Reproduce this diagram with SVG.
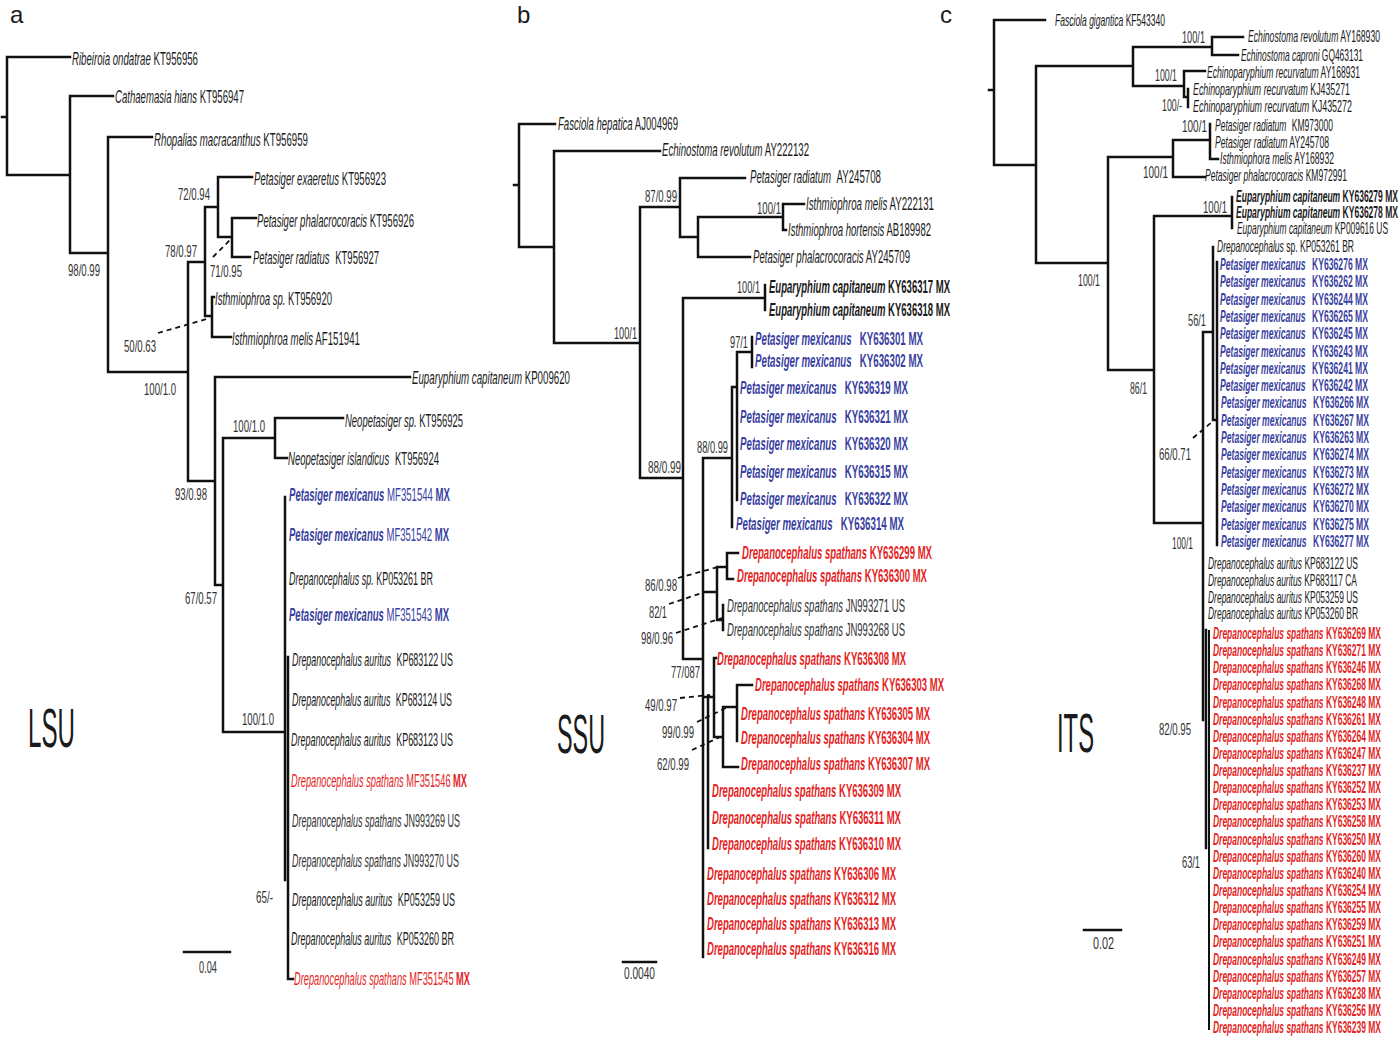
<svg xmlns="http://www.w3.org/2000/svg" width="1400" height="1042" viewBox="0 0 1400 1042">
<style>
text{font-family:"Liberation Sans",Arial,sans-serif;fill:#1a1a1a}
.n{font-size:18px}
.k{font-size:17px}
.s{font-size:17px;fill:#333}
.i{font-style:italic}
.b{font-weight:bold}
.bl{fill:#3a3f9f}
.rd{fill:#e41f26}
.gy{fill:#333}
.big{font-size:56px}
.pl{font-size:24px}
.br{stroke:#111;stroke-width:2.5;fill:none;stroke-linecap:square}
.th{stroke:#111;stroke-width:2;fill:none}
.ds{stroke:#111;stroke-width:1.8;fill:none;stroke-dasharray:5 4}
</style>
<rect width="1400" height="1042" fill="#fff"/>
<g id="panel-labels">
<text class="pl" x="10" y="23">a</text>
<text class="pl" x="517" y="23">b</text>
<text class="pl" x="940" y="23">c</text>
<text class="big" x="28" y="747" textLength="47" lengthAdjust="spacingAndGlyphs">LSU</text>
<text class="big" x="557" y="753" textLength="48" lengthAdjust="spacingAndGlyphs">SSU</text>
<text class="big" x="1057" y="752" textLength="37" lengthAdjust="spacingAndGlyphs">ITS</text>
</g>
<g id="connectors">
<path class="br" d="M2,117H7M7,57V175M7,57H70M7,175H70M70,96V253M70,96H113M70,253H108M108,137V372M108,137H152M108,372H188M188,262V481M188,262H205M205,207V316M205,207H218M218,177V237M218,177H252M218,237H232M232,218V257M232,218H256M232,257H250M205,316H212M212,297V337M212,297H214M212,337H231M188,481H215M215,377V585M215,377H410M215,585H223M223,438V732M223,438H275M275,418V458M275,418H343M275,458H287M223,732H285M285,497V880M288,657V979M288,979H293"/>
<path class="ds" d="M213,257L232,238M158,333L210,318"/>
<path class="br" d="M514,185H519M519,124V247M519,124H555M519,247H554M554,151V343M554,151H660M554,343H640M640,207V478M640,207H680M680,178V237M680,178H745M680,237H698M698,217V257M698,217H783M783,204V230M783,204H804M783,230H786M698,257H750M640,478H683M683,298V659M683,298H765M765,285V310M683,659H703M703,458V957M703,458H732M732,387V527M732,387H737M737,352V500M737,352H752M752,337V367M703,592H717M717,567V620M717,567H727M727,553V579M727,553H738M727,579H733M717,620H723M723,605V630M703,697H714M708,697V848M714,658V737M714,658H716M714,737H723M723,707V767M723,707H737M737,685V741M737,685H752M723,767H738"/>
<path class="ds" d="M678,578L718,567M669,604L705,592M676,633L722,618M680,698L710,695M697,722L728,707M692,750L720,737"/>
<path class="br" d="M989,90H994M994,20V165M994,20H1045M994,165H1036M1036,66V263M1036,66H1133M1133,47V86M1133,47H1212M1212,37V55M1212,37H1243M1212,55H1238M1133,86H1184M1184,71V97M1184,71H1205M1184,97H1188M1188,89V107M1036,263H1108M1108,157V370M1108,157H1173M1173,140V177M1173,140H1210M1210,124V159M1210,159H1218M1173,177H1205M1108,370H1154M1154,216V523M1154,216H1232M1232,197V228M1154,523H1203M1203,332V720M1203,332H1213M1213,247V420M1213,420H1217M1217,262V545M1206,630V848"/>
<path class="th" d="M1209,630V1030"/>
<path class="ds" d="M1193,438L1212,422"/>
<path class="br" d="M184,952H230M623,962H656M1084,930H1121"/>
</g>
<g id="scales">
<text class="s" x="199" y="973" textLength="18" lengthAdjust="spacingAndGlyphs">0.04</text>
<text class="s" x="624" y="979" textLength="31" lengthAdjust="spacingAndGlyphs">0.0040</text>
<text class="s" x="1093" y="949" textLength="21" lengthAdjust="spacingAndGlyphs">0.02</text>
</g>
<g id="support-a">
<text class="s" x="178" y="200" textLength="32" lengthAdjust="spacingAndGlyphs">72/0.94</text>
<text class="s" x="165" y="257" textLength="32" lengthAdjust="spacingAndGlyphs">78/0.97</text>
<text class="s" x="210" y="277" textLength="32" lengthAdjust="spacingAndGlyphs">71/0.95</text>
<text class="s" x="68" y="276" textLength="32" lengthAdjust="spacingAndGlyphs">98/0.99</text>
<text class="s" x="124" y="352" textLength="32" lengthAdjust="spacingAndGlyphs">50/0.63</text>
<text class="s" x="144" y="395" textLength="32" lengthAdjust="spacingAndGlyphs">100/1.0</text>
<text class="s" x="175" y="500" textLength="32" lengthAdjust="spacingAndGlyphs">93/0.98</text>
<text class="s" x="233" y="432" textLength="32" lengthAdjust="spacingAndGlyphs">100/1.0</text>
<text class="s" x="185" y="604" textLength="32" lengthAdjust="spacingAndGlyphs">67/0.57</text>
<text class="s" x="242" y="725" textLength="32" lengthAdjust="spacingAndGlyphs">100/1.0</text>
<text class="s" x="256" y="903" textLength="17" lengthAdjust="spacingAndGlyphs">65/-</text>
</g>
<g id="lsu-leaves">
<g id="a1"><text class="n" x="72" y="64.5" textLength="126" lengthAdjust="spacingAndGlyphs"><tspan class="i">Ribeiroia ondatrae</tspan> KT956956</text></g>
<g id="a2"><text class="n" x="115" y="102.5" textLength="129" lengthAdjust="spacingAndGlyphs"><tspan class="i">Cathaemasia hians</tspan> KT956947</text></g>
<g id="a3"><text class="n" x="154" y="145.5" textLength="154" lengthAdjust="spacingAndGlyphs"><tspan class="i">Rhopalias macracanthus</tspan> KT956959</text></g>
<g id="a4"><text class="n" x="254" y="184.5" textLength="132" lengthAdjust="spacingAndGlyphs"><tspan class="i">Petasiger exaeretus</tspan> KT956923</text></g>
<g id="a5"><text class="n" x="257" y="226.5" textLength="157" lengthAdjust="spacingAndGlyphs"><tspan class="i">Petasiger phalacrocoracis</tspan> KT956926</text></g>
<g id="a6"><text class="n" x="253" y="263.5" textLength="126" lengthAdjust="spacingAndGlyphs"><tspan class="i">Petasiger radiatus</tspan> <tspan dx="6">KT956927</tspan></text></g>
<g id="a7"><text class="n" x="215" y="304.5" textLength="117" lengthAdjust="spacingAndGlyphs"><tspan class="i">Isthmiophroa sp.</tspan> KT956920</text></g>
<g id="a8"><text class="n" x="232" y="344.5" textLength="128" lengthAdjust="spacingAndGlyphs"><tspan class="i">Isthmiophroa melis</tspan> AF151941</text></g>
<g id="a9"><text class="n" x="412" y="383.5" textLength="158" lengthAdjust="spacingAndGlyphs"><tspan class="i">Euparyphium capitaneum</tspan> KP009620</text></g>
<g id="a10"><text class="n" x="345" y="426.5" textLength="118" lengthAdjust="spacingAndGlyphs"><tspan class="i">Neopetasiger sp.</tspan> KT956925</text></g>
<g id="a11"><text class="n" x="288" y="464.5" textLength="151" lengthAdjust="spacingAndGlyphs"><tspan class="i">Neopetasiger islandicus</tspan> <tspan dx="6">KT956924</tspan></text></g>
<g id="a12"><text class="n bl" x="289" y="500.5" textLength="161" lengthAdjust="spacingAndGlyphs"><tspan class="i b">Petasiger mexicanus</tspan> MF351544 <tspan class="b">MX</tspan></text></g>
<g id="a13"><text class="n bl" x="289" y="540.5" textLength="160" lengthAdjust="spacingAndGlyphs"><tspan class="i b">Petasiger mexicanus</tspan> MF351542 <tspan class="b">MX</tspan></text></g>
<g id="a14"><text class="n" x="289" y="584.5" textLength="144" lengthAdjust="spacingAndGlyphs"><tspan class="i">Drepanocephalus sp.</tspan> KP053261 BR</text></g>
<g id="a15"><text class="n bl" x="289" y="620.5" textLength="160" lengthAdjust="spacingAndGlyphs"><tspan class="i b">Petasiger mexicanus</tspan> MF351543 <tspan class="b">MX</tspan></text></g>
<g id="a16"><text class="n" x="292" y="665.5" textLength="161" lengthAdjust="spacingAndGlyphs"><tspan class="i">Drepanocephalus auritus</tspan> <tspan dx="6">KP683122 US</tspan></text></g>
<g id="a17"><text class="n" x="292" y="705.5" textLength="160" lengthAdjust="spacingAndGlyphs"><tspan class="i">Drepanocephalus auritus</tspan> <tspan dx="6">KP683124 US</tspan></text></g>
<g id="a18"><text class="n" x="291" y="745.5" textLength="162" lengthAdjust="spacingAndGlyphs"><tspan class="i">Drepanocephalus auritus</tspan> <tspan dx="6">KP683123 US</tspan></text></g>
<g id="a19"><text class="n rd" x="291" y="786.5" textLength="176" lengthAdjust="spacingAndGlyphs"><tspan class="i">Drepanocephalus spathans</tspan> MF351546 <tspan class="b">MX</tspan></text></g>
<g id="a20"><text class="n gy" x="292" y="826.5" textLength="168" lengthAdjust="spacingAndGlyphs"><tspan class="i">Drepanocephalus spathans</tspan> JN993269 US</text></g>
<g id="a21"><text class="n gy" x="292" y="866.5" textLength="167" lengthAdjust="spacingAndGlyphs"><tspan class="i">Drepanocephalus spathans</tspan> JN993270 US</text></g>
<g id="a22"><text class="n" x="292" y="905.5" textLength="163" lengthAdjust="spacingAndGlyphs"><tspan class="i">Drepanocephalus auritus</tspan> <tspan dx="6">KP053259 US</tspan></text></g>
<g id="a23"><text class="n" x="291" y="944.5" textLength="163" lengthAdjust="spacingAndGlyphs"><tspan class="i">Drepanocephalus auritus</tspan> <tspan dx="6">KP053260 BR</tspan></text></g>
<g id="a24"><text class="n rd" x="294" y="984.5" textLength="176" lengthAdjust="spacingAndGlyphs"><tspan class="i">Drepanocephalus spathans</tspan> MF351545 <tspan class="b">MX</tspan></text></g>
</g>
<g id="support-b">
<text class="s" x="614" y="339" textLength="23" lengthAdjust="spacingAndGlyphs">100/1</text>
<text class="s" x="645" y="202" textLength="32" lengthAdjust="spacingAndGlyphs">87/0.99</text>
<text class="s" x="757" y="214" textLength="24" lengthAdjust="spacingAndGlyphs">100/1</text>
<text class="s" x="648" y="473" textLength="33" lengthAdjust="spacingAndGlyphs">88/0.99</text>
<text class="s" x="737" y="293" textLength="23" lengthAdjust="spacingAndGlyphs">100/1</text>
<text class="s" x="730" y="348" textLength="18" lengthAdjust="spacingAndGlyphs">97/1</text>
<text class="s" x="697" y="453" textLength="31" lengthAdjust="spacingAndGlyphs">88/0.99</text>
<text class="s" x="645" y="591" textLength="32" lengthAdjust="spacingAndGlyphs">86/0.98</text>
<text class="s" x="649" y="618" textLength="18" lengthAdjust="spacingAndGlyphs">82/1</text>
<text class="s" x="641" y="644" textLength="32" lengthAdjust="spacingAndGlyphs">98/0.96</text>
<text class="s" x="671" y="678" textLength="29" lengthAdjust="spacingAndGlyphs">77/087</text>
<text class="s" x="645" y="711" textLength="32" lengthAdjust="spacingAndGlyphs">49/0.97</text>
<text class="s" x="662" y="738" textLength="32" lengthAdjust="spacingAndGlyphs">99/0.99</text>
<text class="s" x="657" y="770" textLength="32" lengthAdjust="spacingAndGlyphs">62/0.99</text>
</g>
<g id="ssu-leaves">
<g id="b1"><text class="n" x="558" y="129.5" textLength="120" lengthAdjust="spacingAndGlyphs"><tspan class="i">Fasciola hepatica</tspan> AJ004969</text></g>
<g id="b2"><text class="n" x="662" y="155.5" textLength="147" lengthAdjust="spacingAndGlyphs"><tspan class="i">Echinostoma revolutum</tspan> AY222132</text></g>
<g id="b3"><text class="n" x="750" y="182.5" textLength="131" lengthAdjust="spacingAndGlyphs"><tspan class="i">Petasiger radiatum</tspan> <tspan dx="6">AY245708</tspan></text></g>
<g id="b4"><text class="n" x="806" y="209.5" textLength="128" lengthAdjust="spacingAndGlyphs"><tspan class="i">Isthmiophroa melis</tspan> AY222131</text></g>
<g id="b5"><text class="n" x="788" y="235.5" textLength="143" lengthAdjust="spacingAndGlyphs"><tspan class="i">Isthmiophroa hortensis</tspan> AB189982</text></g>
<g id="b6"><text class="n" x="753" y="262.5" textLength="157" lengthAdjust="spacingAndGlyphs"><tspan class="i">Petasiger phalacrocoracis</tspan> AY245709</text></g>
<g id="b7"><text class="n b" x="769" y="292.5" textLength="181" lengthAdjust="spacingAndGlyphs"><tspan class="i">Euparyphium capitaneum</tspan> KY636317 MX</text></g>
<g id="b8"><text class="n b" x="769" y="315.5" textLength="181" lengthAdjust="spacingAndGlyphs"><tspan class="i">Euparyphium capitaneum</tspan> KY636318 MX</text></g>
<g id="b9"><text class="n b bl" x="755" y="344.5" textLength="168" lengthAdjust="spacingAndGlyphs"><tspan class="i">Petasiger mexicanus</tspan> <tspan dx="10">KY636301 MX</tspan></text></g>
<g id="b10"><text class="n b bl" x="755" y="366.5" textLength="168" lengthAdjust="spacingAndGlyphs"><tspan class="i">Petasiger mexicanus</tspan> <tspan dx="10">KY636302 MX</tspan></text></g>
<g id="b11"><text class="n b bl" x="740" y="393.5" textLength="168" lengthAdjust="spacingAndGlyphs"><tspan class="i">Petasiger mexicanus</tspan> <tspan dx="10">KY636319 MX</tspan></text></g>
<g id="b12"><text class="n b bl" x="740" y="422.5" textLength="168" lengthAdjust="spacingAndGlyphs"><tspan class="i">Petasiger mexicanus</tspan> <tspan dx="10">KY636321 MX</tspan></text></g>
<g id="b13"><text class="n b bl" x="740" y="449.5" textLength="168" lengthAdjust="spacingAndGlyphs"><tspan class="i">Petasiger mexicanus</tspan> <tspan dx="10">KY636320 MX</tspan></text></g>
<g id="b14"><text class="n b bl" x="740" y="477.5" textLength="168" lengthAdjust="spacingAndGlyphs"><tspan class="i">Petasiger mexicanus</tspan> <tspan dx="10">KY636315 MX</tspan></text></g>
<g id="b15"><text class="n b bl" x="740" y="504.5" textLength="168" lengthAdjust="spacingAndGlyphs"><tspan class="i">Petasiger mexicanus</tspan> <tspan dx="10">KY636322 MX</tspan></text></g>
<g id="b16"><text class="n b bl" x="736" y="529.5" textLength="168" lengthAdjust="spacingAndGlyphs"><tspan class="i">Petasiger mexicanus</tspan> <tspan dx="10">KY636314 MX</tspan></text></g>
<g id="b17"><text class="n b rd" x="742" y="558.5" textLength="190" lengthAdjust="spacingAndGlyphs"><tspan class="i">Drepanocephalus spathans</tspan> KY636299 MX</text></g>
<g id="b18"><text class="n b rd" x="737" y="581.5" textLength="190" lengthAdjust="spacingAndGlyphs"><tspan class="i">Drepanocephalus spathans</tspan> KY636300 MX</text></g>
<g id="b19"><text class="n gy" x="727" y="611.5" textLength="178" lengthAdjust="spacingAndGlyphs"><tspan class="i">Drepanocephalus spathans</tspan> JN993271 US</text></g>
<g id="b20"><text class="n gy" x="727" y="635.5" textLength="178" lengthAdjust="spacingAndGlyphs"><tspan class="i">Drepanocephalus spathans</tspan> JN993268 US</text></g>
<g id="b21"><text class="n b rd" x="717" y="664.5" textLength="189" lengthAdjust="spacingAndGlyphs"><tspan class="i">Drepanocephalus spathans</tspan> KY636308 MX</text></g>
<g id="b22"><text class="n b rd" x="755" y="690.5" textLength="189" lengthAdjust="spacingAndGlyphs"><tspan class="i">Drepanocephalus spathans</tspan> KY636303 MX</text></g>
<g id="b23"><text class="n b rd" x="741" y="719.5" textLength="189" lengthAdjust="spacingAndGlyphs"><tspan class="i">Drepanocephalus spathans</tspan> KY636305 MX</text></g>
<g id="b24"><text class="n b rd" x="741" y="743.5" textLength="189" lengthAdjust="spacingAndGlyphs"><tspan class="i">Drepanocephalus spathans</tspan> KY636304 MX</text></g>
<g id="b25"><text class="n b rd" x="741" y="769.5" textLength="189" lengthAdjust="spacingAndGlyphs"><tspan class="i">Drepanocephalus spathans</tspan> KY636307 MX</text></g>
<g id="b26"><text class="n b rd" x="712" y="796.5" textLength="189" lengthAdjust="spacingAndGlyphs"><tspan class="i">Drepanocephalus spathans</tspan> KY636309 MX</text></g>
<g id="b27"><text class="n b rd" x="712" y="823.5" textLength="189" lengthAdjust="spacingAndGlyphs"><tspan class="i">Drepanocephalus spathans</tspan> KY636311 MX</text></g>
<g id="b28"><text class="n b rd" x="712" y="849.5" textLength="189" lengthAdjust="spacingAndGlyphs"><tspan class="i">Drepanocephalus spathans</tspan> KY636310 MX</text></g>
<g id="b29"><text class="n b rd" x="707" y="879.5" textLength="189" lengthAdjust="spacingAndGlyphs"><tspan class="i">Drepanocephalus spathans</tspan> KY636306 MX</text></g>
<g id="b30"><text class="n b rd" x="707" y="904.5" textLength="189" lengthAdjust="spacingAndGlyphs"><tspan class="i">Drepanocephalus spathans</tspan> KY636312 MX</text></g>
<g id="b31"><text class="n b rd" x="707" y="929.5" textLength="189" lengthAdjust="spacingAndGlyphs"><tspan class="i">Drepanocephalus spathans</tspan> KY636313 MX</text></g>
<g id="b32"><text class="n b rd" x="707" y="954.5" textLength="189" lengthAdjust="spacingAndGlyphs"><tspan class="i">Drepanocephalus spathans</tspan> KY636316 MX</text></g>
</g>
<g id="support-c">
<text class="s" x="1182" y="43" textLength="23" lengthAdjust="spacingAndGlyphs">100/1</text>
<text class="s" x="1155" y="81" textLength="22" lengthAdjust="spacingAndGlyphs">100/1</text>
<text class="s" x="1162" y="111" textLength="20" lengthAdjust="spacingAndGlyphs">100/-</text>
<text class="s" x="1182" y="132" textLength="25" lengthAdjust="spacingAndGlyphs">100/1</text>
<text class="s" x="1143" y="178" textLength="25" lengthAdjust="spacingAndGlyphs">100/1</text>
<text class="s" x="1203" y="213" textLength="24" lengthAdjust="spacingAndGlyphs">100/1</text>
<text class="s" x="1078" y="286" textLength="22" lengthAdjust="spacingAndGlyphs">100/1</text>
<text class="s" x="1188" y="326" textLength="18" lengthAdjust="spacingAndGlyphs">56/1</text>
<text class="s" x="1130" y="394" textLength="17" lengthAdjust="spacingAndGlyphs">86/1</text>
<text class="s" x="1159" y="460" textLength="32" lengthAdjust="spacingAndGlyphs">66/0.71</text>
<text class="s" x="1172" y="549" textLength="21" lengthAdjust="spacingAndGlyphs">100/1</text>
<text class="s" x="1159" y="735" textLength="32" lengthAdjust="spacingAndGlyphs">82/0.95</text>
<text class="s" x="1182" y="868" textLength="18" lengthAdjust="spacingAndGlyphs">63/1</text>
</g>
<g id="its-leaves">
<g id="c1"><text class="k" x="1055" y="26" textLength="110" lengthAdjust="spacingAndGlyphs"><tspan class="i">Fasciola gigantica</tspan> KF543340</text></g>
<g id="c2"><text class="k" x="1248" y="42" textLength="132" lengthAdjust="spacingAndGlyphs"><tspan class="i">Echinostoma revolutum</tspan> AY168930</text></g>
<g id="c3"><text class="k" x="1241" y="61" textLength="122" lengthAdjust="spacingAndGlyphs"><tspan class="i">Echinostoma caproni</tspan> GQ463131</text></g>
<g id="c4"><text class="k" x="1207" y="78" textLength="153" lengthAdjust="spacingAndGlyphs"><tspan class="i">Echinoparyphium recurvatum</tspan> AY168931</text></g>
<g id="c5"><text class="k" x="1193" y="95" textLength="157" lengthAdjust="spacingAndGlyphs"><tspan class="i">Echinoparyphium recurvatum</tspan> KJ435271</text></g>
<g id="c6"><text class="k" x="1193" y="112" textLength="159" lengthAdjust="spacingAndGlyphs"><tspan class="i">Echinoparyphium recurvatum</tspan> KJ435272</text></g>
<g id="c7"><text class="k" x="1215" y="131" textLength="118" lengthAdjust="spacingAndGlyphs"><tspan class="i">Petasiger radiatum</tspan> <tspan dx="6">KM973000</tspan></text></g>
<g id="c8"><text class="k" x="1215" y="148" textLength="114" lengthAdjust="spacingAndGlyphs"><tspan class="i">Petasiger radiatum</tspan> AY245708</text></g>
<g id="c9"><text class="k" x="1220" y="164" textLength="114" lengthAdjust="spacingAndGlyphs"><tspan class="i">Isthmiophora melis</tspan> AY168932</text></g>
<g id="c10"><text class="k" x="1205" y="181" textLength="142" lengthAdjust="spacingAndGlyphs"><tspan class="i">Petasiger phalacrocoracis</tspan> KM972991</text></g>
<g id="c11"><text class="k b" x="1236" y="202" textLength="162" lengthAdjust="spacingAndGlyphs"><tspan class="i">Euparyphium capitaneum</tspan> KY636279 MX</text></g>
<g id="c12"><text class="k b" x="1236" y="218" textLength="162" lengthAdjust="spacingAndGlyphs"><tspan class="i">Euparyphium capitaneum</tspan> KY636278 MX</text></g>
<g id="c13"><text class="k" x="1237" y="234" textLength="151" lengthAdjust="spacingAndGlyphs"><tspan class="i">Euparyphium capitaneum</tspan> KP009616 US</text></g>
<g id="c14"><text class="k" x="1217" y="252" textLength="137" lengthAdjust="spacingAndGlyphs"><tspan class="i">Drepanocephalus</tspan> sp. KP053261 BR</text></g>
<g id="c15"><text class="k b bl" x="1220" y="270" textLength="148" lengthAdjust="spacingAndGlyphs"><tspan class="i">Petasiger mexicanus</tspan> <tspan dx="8">KY636276 MX</tspan></text></g>
<g id="c16"><text class="k b bl" x="1220" y="287.3" textLength="148" lengthAdjust="spacingAndGlyphs"><tspan class="i">Petasiger mexicanus</tspan> <tspan dx="8">KY636262 MX</tspan></text></g>
<g id="c17"><text class="k b bl" x="1220" y="304.6" textLength="148" lengthAdjust="spacingAndGlyphs"><tspan class="i">Petasiger mexicanus</tspan> <tspan dx="8">KY636244 MX</tspan></text></g>
<g id="c18"><text class="k b bl" x="1220" y="321.9" textLength="148" lengthAdjust="spacingAndGlyphs"><tspan class="i">Petasiger mexicanus</tspan> <tspan dx="8">KY636265 MX</tspan></text></g>
<g id="c19"><text class="k b bl" x="1220" y="339.2" textLength="148" lengthAdjust="spacingAndGlyphs"><tspan class="i">Petasiger mexicanus</tspan> <tspan dx="8">KY636245 MX</tspan></text></g>
<g id="c20"><text class="k b bl" x="1220" y="356.5" textLength="148" lengthAdjust="spacingAndGlyphs"><tspan class="i">Petasiger mexicanus</tspan> <tspan dx="8">KY636243 MX</tspan></text></g>
<g id="c21"><text class="k b bl" x="1220" y="373.8" textLength="148" lengthAdjust="spacingAndGlyphs"><tspan class="i">Petasiger mexicanus</tspan> <tspan dx="8">KY636241 MX</tspan></text></g>
<g id="c22"><text class="k b bl" x="1220" y="391.1" textLength="148" lengthAdjust="spacingAndGlyphs"><tspan class="i">Petasiger mexicanus</tspan> <tspan dx="8">KY636242 MX</tspan></text></g>
<g id="c23"><text class="k b bl" x="1221" y="408.4" textLength="148" lengthAdjust="spacingAndGlyphs"><tspan class="i">Petasiger mexicanus</tspan> <tspan dx="8">KY636266 MX</tspan></text></g>
<g id="c24"><text class="k b bl" x="1221" y="425.7" textLength="148" lengthAdjust="spacingAndGlyphs"><tspan class="i">Petasiger mexicanus</tspan> <tspan dx="8">KY636267 MX</tspan></text></g>
<g id="c25"><text class="k b bl" x="1221" y="443" textLength="148" lengthAdjust="spacingAndGlyphs"><tspan class="i">Petasiger mexicanus</tspan> <tspan dx="8">KY636263 MX</tspan></text></g>
<g id="c26"><text class="k b bl" x="1221" y="460.3" textLength="148" lengthAdjust="spacingAndGlyphs"><tspan class="i">Petasiger mexicanus</tspan> <tspan dx="8">KY636274 MX</tspan></text></g>
<g id="c27"><text class="k b bl" x="1221" y="477.6" textLength="148" lengthAdjust="spacingAndGlyphs"><tspan class="i">Petasiger mexicanus</tspan> <tspan dx="8">KY636273 MX</tspan></text></g>
<g id="c28"><text class="k b bl" x="1221" y="494.9" textLength="148" lengthAdjust="spacingAndGlyphs"><tspan class="i">Petasiger mexicanus</tspan> <tspan dx="8">KY636272 MX</tspan></text></g>
<g id="c29"><text class="k b bl" x="1221" y="512.2" textLength="148" lengthAdjust="spacingAndGlyphs"><tspan class="i">Petasiger mexicanus</tspan> <tspan dx="8">KY636270 MX</tspan></text></g>
<g id="c30"><text class="k b bl" x="1221" y="529.5" textLength="148" lengthAdjust="spacingAndGlyphs"><tspan class="i">Petasiger mexicanus</tspan> <tspan dx="8">KY636275 MX</tspan></text></g>
<g id="c31"><text class="k b bl" x="1221" y="546.8" textLength="148" lengthAdjust="spacingAndGlyphs"><tspan class="i">Petasiger mexicanus</tspan> <tspan dx="8">KY636277 MX</tspan></text></g>
<g id="c32"><text class="k" x="1208" y="569" textLength="150" lengthAdjust="spacingAndGlyphs"><tspan class="i">Drepanocephalus auritus</tspan> KP683122 US</text></g>
<g id="c33"><text class="k" x="1208" y="586" textLength="149" lengthAdjust="spacingAndGlyphs"><tspan class="i">Drepanocephalus auritus</tspan> KP683117 CA</text></g>
<g id="c34"><text class="k" x="1208" y="603" textLength="150" lengthAdjust="spacingAndGlyphs"><tspan class="i">Drepanocephalus auritus</tspan> KP053259 US</text></g>
<g id="c35"><text class="k" x="1208" y="619" textLength="150" lengthAdjust="spacingAndGlyphs"><tspan class="i">Drepanocephalus auritus</tspan> KP053260 BR</text></g>
<g id="c36"><text class="k b rd" x="1213" y="639" textLength="168" lengthAdjust="spacingAndGlyphs"><tspan class="i">Drepanocephalus spathans</tspan> KY636269 MX</text></g>
<g id="c37"><text class="k b rd" x="1213" y="656.1" textLength="168" lengthAdjust="spacingAndGlyphs"><tspan class="i">Drepanocephalus spathans</tspan> KY636271 MX</text></g>
<g id="c38"><text class="k b rd" x="1213" y="673.3" textLength="168" lengthAdjust="spacingAndGlyphs"><tspan class="i">Drepanocephalus spathans</tspan> KY636246 MX</text></g>
<g id="c39"><text class="k b rd" x="1213" y="690.4" textLength="168" lengthAdjust="spacingAndGlyphs"><tspan class="i">Drepanocephalus spathans</tspan> KY636268 MX</text></g>
<g id="c40"><text class="k b rd" x="1213" y="707.5" textLength="168" lengthAdjust="spacingAndGlyphs"><tspan class="i">Drepanocephalus spathans</tspan> KY636248 MX</text></g>
<g id="c41"><text class="k b rd" x="1213" y="724.7" textLength="168" lengthAdjust="spacingAndGlyphs"><tspan class="i">Drepanocephalus spathans</tspan> KY636261 MX</text></g>
<g id="c42"><text class="k b rd" x="1213" y="741.8" textLength="168" lengthAdjust="spacingAndGlyphs"><tspan class="i">Drepanocephalus spathans</tspan> KY636264 MX</text></g>
<g id="c43"><text class="k b rd" x="1213" y="758.9" textLength="168" lengthAdjust="spacingAndGlyphs"><tspan class="i">Drepanocephalus spathans</tspan> KY636247 MX</text></g>
<g id="c44"><text class="k b rd" x="1213" y="776" textLength="168" lengthAdjust="spacingAndGlyphs"><tspan class="i">Drepanocephalus spathans</tspan> KY636237 MX</text></g>
<g id="c45"><text class="k b rd" x="1213" y="793.2" textLength="168" lengthAdjust="spacingAndGlyphs"><tspan class="i">Drepanocephalus spathans</tspan> KY636252 MX</text></g>
<g id="c46"><text class="k b rd" x="1213" y="810.3" textLength="168" lengthAdjust="spacingAndGlyphs"><tspan class="i">Drepanocephalus spathans</tspan> KY636253 MX</text></g>
<g id="c47"><text class="k b rd" x="1213" y="827.4" textLength="168" lengthAdjust="spacingAndGlyphs"><tspan class="i">Drepanocephalus spathans</tspan> KY636258 MX</text></g>
<g id="c48"><text class="k b rd" x="1213" y="844.6" textLength="168" lengthAdjust="spacingAndGlyphs"><tspan class="i">Drepanocephalus spathans</tspan> KY636250 MX</text></g>
<g id="c49"><text class="k b rd" x="1213" y="861.7" textLength="168" lengthAdjust="spacingAndGlyphs"><tspan class="i">Drepanocephalus spathans</tspan> KY636260 MX</text></g>
<g id="c50"><text class="k b rd" x="1213" y="878.8" textLength="168" lengthAdjust="spacingAndGlyphs"><tspan class="i">Drepanocephalus spathans</tspan> KY636240 MX</text></g>
<g id="c51"><text class="k b rd" x="1213" y="896" textLength="168" lengthAdjust="spacingAndGlyphs"><tspan class="i">Drepanocephalus spathans</tspan> KY636254 MX</text></g>
<g id="c52"><text class="k b rd" x="1213" y="913.1" textLength="168" lengthAdjust="spacingAndGlyphs"><tspan class="i">Drepanocephalus spathans</tspan> KY636255 MX</text></g>
<g id="c53"><text class="k b rd" x="1213" y="930.2" textLength="168" lengthAdjust="spacingAndGlyphs"><tspan class="i">Drepanocephalus spathans</tspan> KY636259 MX</text></g>
<g id="c54"><text class="k b rd" x="1213" y="947.3" textLength="168" lengthAdjust="spacingAndGlyphs"><tspan class="i">Drepanocephalus spathans</tspan> KY636251 MX</text></g>
<g id="c55"><text class="k b rd" x="1213" y="964.5" textLength="168" lengthAdjust="spacingAndGlyphs"><tspan class="i">Drepanocephalus spathans</tspan> KY636249 MX</text></g>
<g id="c56"><text class="k b rd" x="1213" y="981.6" textLength="168" lengthAdjust="spacingAndGlyphs"><tspan class="i">Drepanocephalus spathans</tspan> KY636257 MX</text></g>
<g id="c57"><text class="k b rd" x="1213" y="998.7" textLength="168" lengthAdjust="spacingAndGlyphs"><tspan class="i">Drepanocephalus spathans</tspan> KY636238 MX</text></g>
<g id="c58"><text class="k b rd" x="1213" y="1015.9" textLength="168" lengthAdjust="spacingAndGlyphs"><tspan class="i">Drepanocephalus spathans</tspan> KY636256 MX</text></g>
<g id="c59"><text class="k b rd" x="1213" y="1033" textLength="168" lengthAdjust="spacingAndGlyphs"><tspan class="i">Drepanocephalus spathans</tspan> KY636239 MX</text></g>
</g>
</svg>
